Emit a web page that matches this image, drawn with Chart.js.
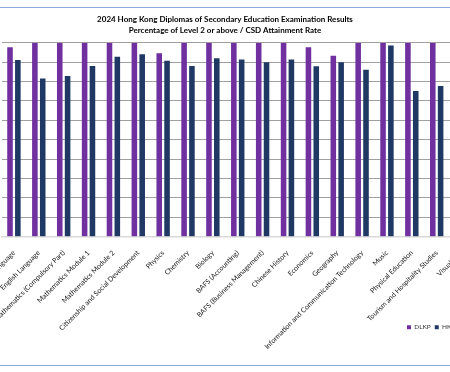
<!DOCTYPE html>
<html><head><meta charset="utf-8">
<script src="https://cdn.jsdelivr.net/npm/chart.js@4/dist/chart.umd.min.js"></script>
<style>
html,body{margin:0;padding:0;background:#fff;overflow:hidden;width:450px;height:372px;position:relative;}
#frame{position:absolute;left:-10px;top:7px;width:470px;height:359px;border:1px solid #8EA9DB;box-sizing:border-box;}
#wrap{position:absolute;left:-24px;top:0;width:498px;height:372px;}
</style></head><body>
<div id="frame"></div>
<div id="wrap"><canvas id="c" width="498" height="372"></canvas></div>
<script>
const categories = ['Chinese Language','English Language','Mathematics (Compulsory Part)','Mathematics Module 1','Mathematics Module 2','Citizenship and Social Development','Physics','Chemistry','Biology','BAFS (Accounting)','BAFS (Business Management)','Chinese History','Economics','Geography','Information and Communication Technology','Music','Physical Education','Tourism and Hospitality Studies','Visual Arts'];
const dlkpValues = [97.6,100,100,100,100,100,94.5,100,100,100,100,100,97.6,93.3,100,100,100,100,100];
const hkValues   = [91.1,81.6,82.8,88.0,92.8,94.0,90.7,88.0,92.0,91.4,89.9,91.4,87.8,89.9,86.1,98.6,75.1,77.7,88.0];
const seriesNames = ['DLKP','HK'];
const titleLines = ['2024 Hong Kong Diplomas of Secondary Education Examination Results','Percentage of Level 2 or above / CSD Attainment Rate'];
const yMin = 0, yMax = 100, yStep = 10;

const FONT = 'Lato, "Open Sans", sans-serif';
const PLOT_BOTTOM = 236.7;
const LEGEND_PAD = 4;

const legendPlacer = {
  id: 'legendPlacer',
  afterLayout(chart) {
    const lg = chart.legend;
    if (!lg) return;
    lg.left = 24 + 407 - LEGEND_PAD;
    lg.right = chart.width;
    lg.width = lg.right - lg.left;
    lg.top = 320;
    lg.bottom = lg.top + lg.height;
  }
};

new Chart(document.getElementById('c'), {
  type: 'bar',
  data: {
    labels: categories,
    datasets: [
      { label: seriesNames[0], data: dlkpValues, backgroundColor: '#7030A0', categoryPercentage: 0.63, barPercentage: 0.71 },
      { label: seriesNames[1], data: hkValues, backgroundColor: '#1F3864', categoryPercentage: 0.63, barPercentage: 0.71 }
    ]
  },
  plugins: [legendPlacer],
  options: {
    responsive: false,
    animation: false,
    layout: { padding: 0 },
    plugins: {
      title: {
        display: true,
        text: titleLines,
        color: '#000',
        font: { family: FONT, size: 8, weight: 'bold', lineHeight: 1.45 },
        padding: { top: 13.5, bottom: 6 }
      },
      legend: {
        position: 'bottom',
        align: 'start',
        labels: { color: '#333', font: { family: FONT, size: 6.5 }, boxWidth: 4, boxHeight: 4, padding: LEGEND_PAD }
      },
      tooltip: { enabled: false }
    },
    scales: {
      x: {
        grid: { display: false },
        border: { display: true, color: '#D9D9D9', width: 1.5 },
        ticks: { color: '#222', font: { family: FONT, size: 7 }, maxRotation: 45, minRotation: 45, autoSkip: false, padding: 4 },
        afterFit(axis) {
          axis.paddingLeft = 0; axis.paddingRight = 0;
          const lh = axis.chart.legend ? axis.chart.legend.height : 0;
          axis.height = 372 - PLOT_BOTTOM - lh;
        }
      },
      y: {
        min: yMin, max: yMax,
        ticks: { display: false, stepSize: yStep },
        border: { display: false },
        grid: {
          drawTicks: false,
          color: (ctx) => ctx.tick && ctx.tick.value === 0 ? 'rgba(0,0,0,0)' : '#A0A0A0',
          lineWidth: 1
        },
        afterFit(axis) { axis.width = 25.5; axis.paddingTop = 0; axis.paddingBottom = 0; }
      }
    }
  }
});
</script>
</body></html>
